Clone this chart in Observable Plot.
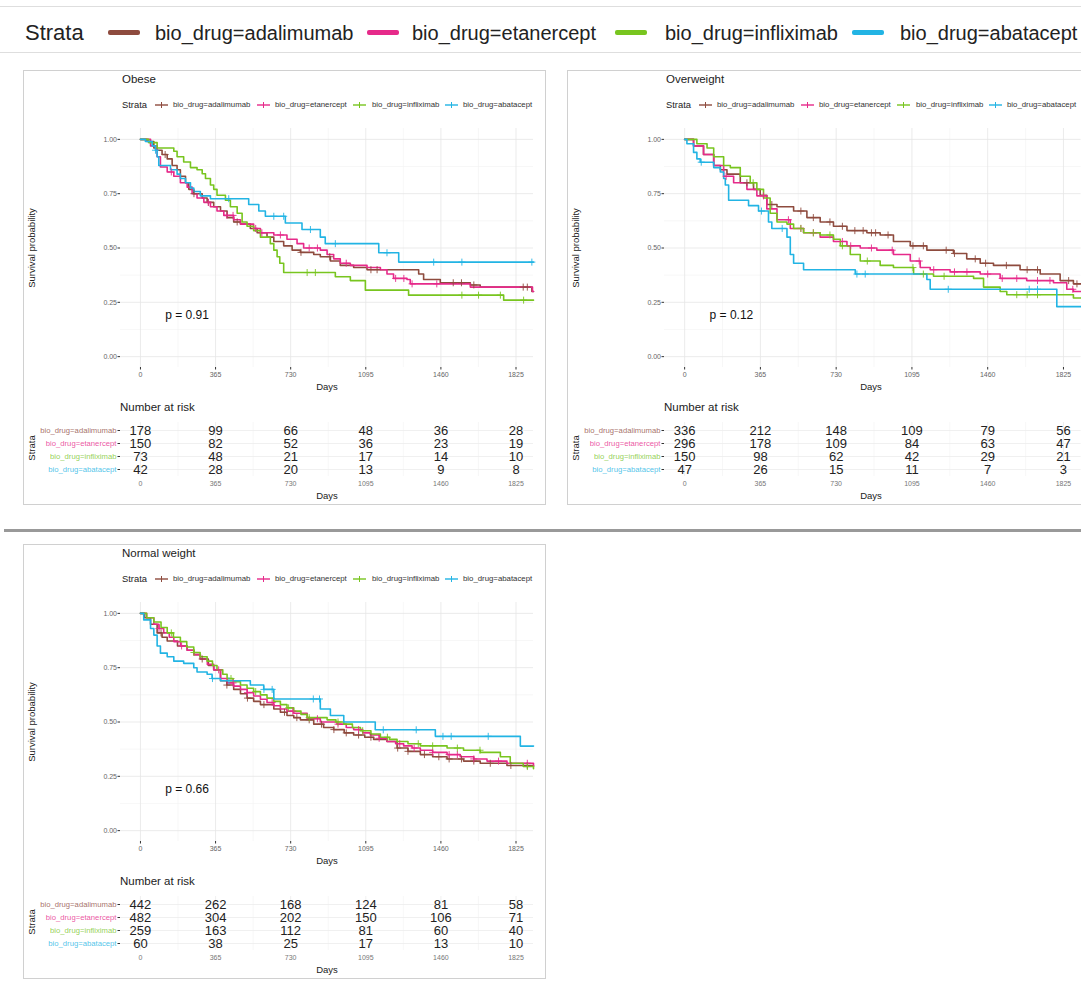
<!DOCTYPE html>
<html><head><meta charset="utf-8">
<script src="https://cdn.jsdelivr.net/npm/d3@7"></script>
<script src="https://cdn.jsdelivr.net/npm/@observablehq/plot@0.6"></script>
<style>
body{margin:0;width:1081px;height:1003px;overflow:hidden;background:#fff;font-family:"Liberation Sans",Arial,Helvetica,sans-serif;color:#222;position:relative}
.abs{position:absolute;white-space:nowrap;line-height:1}
.c{transform:translate(-50%,-50%)}
.l{transform:translateY(-50%)}
.r{transform:translate(-50%,-50%) rotate(-90deg)}
</style></head><body>
<script>
// ---------- data ----------
const strata = ["bio_drug=adalimumab","bio_drug=etanercept","bio_drug=infliximab","bio_drug=abatacept"];
const colors = ["#8E4B3E","#E62A8A","#78C51F","#22B4E4"];
const xTicks = [0,365,730,1095,1460,1825];
const xMinor = [182.5,547.5,912.5,1277.5,1642.5];
const yTicks = [0,0.25,0.5,0.75,1];
const yMinor = [0.125,0.375,0.625,0.875];
const riskTimes = [0,365,730,1095,1460,1825];

// Obese
const obeseAda = [[0,1],[32,0.99],[65,0.96],[81,0.95],[105,0.93],[130,0.91],[154,0.88],[178,0.86],[194,0.83],[219,0.80],[235,0.77],[259,0.75],[300,0.73],[324,0.71],[356,0.69],[389,0.67],[421,0.64],[453,0.62],[486,0.61],[534,0.59],[567,0.57],[615,0.55],[648,0.53],[696,0.51],[737,0.49],[777,0.48],[842,0.47],[874,0.46],[923,0.44],[971,0.42],[1036,0.41],[1101,0.40],[1352,0.38],[1376,0.355],[1457,0.34],[1603,0.33],[1651,0.32],[1902,0.30],[1910,0.30]];
const obeseEta = [[0,1],[49,0.97],[81,0.92],[97,0.873],[130,0.85],[162,0.83],[194,0.80],[227,0.78],[251,0.75],[275,0.73],[308,0.71],[340,0.69],[372,0.67],[405,0.65],[453,0.63],[486,0.61],[550,0.59],[583,0.57],[648,0.56],[712,0.54],[761,0.52],[793,0.50],[874,0.49],[907,0.47],[939,0.45],[971,0.43],[1020,0.42],[1101,0.41],[1166,0.40],[1198,0.38],[1230,0.36],[1295,0.355],[1311,0.335],[1603,0.32],[1905,0.30],[1910,0.30]];
const obeseInf = [[0,1],[40,0.985],[81,0.96],[162,0.945],[178,0.92],[210,0.896],[243,0.87],[275,0.86],[300,0.842],[316,0.82],[340,0.79],[356,0.77],[372,0.743],[413,0.72],[437,0.69],[470,0.66],[494,0.62],[518,0.60],[550,0.58],[583,0.55],[631,0.52],[648,0.49],[664,0.46],[677,0.43],[696,0.387],[947,0.368],[1020,0.35],[1093,0.306],[1303,0.283],[1765,0.26],[1910,0.26]];
const obeseAba = [[0,1],[24,0.99],[57,0.97],[73,0.95],[81,0.92],[89,0.88],[146,0.86],[178,0.84],[194,0.82],[219,0.80],[243,0.776],[259,0.76],[291,0.74],[340,0.727],[526,0.70],[575,0.67],[607,0.646],[704,0.615],[785,0.585],[874,0.55],[898,0.52],[1158,0.478],[1255,0.435],[1910,0.435]];
const obeseAdaCens = [120,260,330,470,780,920,1120,1150,1520,1560,1620,1860,1880];
const obeseEtaCens = [150,330,420,450,560,590,680,820,860,1000,1240,1280,1320,1440];
const obeseInfCens = [810,850,1562,1643,1749,1862];
const obeseAbaCens = [73,429,648,696,826,947,1198,1425,1562,1902];
const obeseRiskAda = [178,99,66,48,36,28];
const obeseRiskEta = [150,82,52,36,23,19];
const obeseRiskInf = [73,48,21,17,14,10];
const obeseRiskAba = [42,28,20,13,9,8];
const obeseP = "p = 0.91";

// Overweight
const owAda = [[0,1],[43,0.97],[91,0.93],[140,0.88],[172,0.86],[204,0.84],[268,0.80],[332,0.77],[364,0.743],[396,0.70],[445,0.69],[525,0.67],[589,0.64],[653,0.62],[717,0.60],[782,0.58],[878,0.57],[942,0.56],[1006,0.53],[1087,0.51],[1167,0.49],[1295,0.475],[1359,0.45],[1424,0.43],[1488,0.42],[1616,0.40],[1713,0.38],[1809,0.35],[1873,0.335],[1910,0.335]];
const owEta = [[0,1],[43,0.97],[91,0.93],[140,0.88],[188,0.83],[236,0.80],[300,0.77],[348,0.74],[396,0.68],[445,0.63],[509,0.59],[573,0.57],[653,0.55],[717,0.53],[782,0.51],[846,0.50],[926,0.49],[1006,0.47],[1087,0.44],[1135,0.41],[1183,0.40],[1279,0.39],[1424,0.38],[1520,0.36],[1648,0.35],[1777,0.34],[1841,0.31],[1873,0.30],[1910,0.30]];
const owInf = [[0,1],[59,0.98],[108,0.96],[140,0.92],[188,0.88],[220,0.87],[268,0.83],[316,0.80],[348,0.77],[380,0.73],[412,0.66],[445,0.62],[493,0.61],[525,0.59],[573,0.57],[653,0.56],[717,0.54],[750,0.51],[798,0.47],[846,0.44],[942,0.42],[1006,0.41],[1103,0.38],[1199,0.37],[1392,0.36],[1440,0.32],[1520,0.30],[1552,0.285],[1873,0.27],[1910,0.27]];
const owAba = [[0,1],[11,0.98],[43,0.94],[59,0.91],[75,0.895],[140,0.87],[172,0.85],[188,0.82],[196,0.79],[212,0.72],[308,0.695],[356,0.67],[404,0.62],[420,0.59],[493,0.55],[509,0.47],[525,0.43],[573,0.40],[822,0.38],[1167,0.355],[1183,0.31],[1793,0.23],[1910,0.23]];
const owAdaCens = [300,420,560,620,700,760,820,860,900,920,980,1100,1150,1260,1300,1400,1450,1550,1650,1700,1850,1890];
const owEtaCens = [200,380,500,560,620,760,800,900,1000,1130,1200,1300,1360,1460,1530,1600,1700,1760,1870];
const owInfCens = [330,560,620,700,760,880,1100,1150,1250,1600,1650,1700];
const owAbaCens = [80,370,470,830,870,1270,1660,1700];
const owRiskAda = [336,212,148,109,79,56];
const owRiskEta = [296,178,109,84,63,47];
const owRiskInf = [150,98,62,42,29,21];
const owRiskAba = [47,26,15,11,7,3];
const owP = "p = 0.12";

// Normal weight
const nwAda = [[0,1],[20,0.98],[49,0.95],[81,0.91],[105,0.89],[130,0.873],[180,0.85],[227,0.83],[260,0.81],[291,0.79],[330,0.76],[356,0.74],[389,0.69],[420,0.67],[453,0.65],[486,0.63],[518,0.61],[550,0.595],[583,0.58],[648,0.56],[680,0.545],[712,0.53],[745,0.52],[777,0.51],[842,0.49],[890,0.475],[939,0.465],[990,0.45],[1036,0.44],[1090,0.43],[1133,0.42],[1198,0.41],[1247,0.38],[1300,0.365],[1360,0.35],[1420,0.34],[1490,0.33],[1570,0.32],[1651,0.31],[1781,0.30],[1910,0.295]];
const nwEta = [[0,1],[30,0.98],[65,0.95],[90,0.93],[113,0.91],[140,0.89],[162,0.87],[195,0.85],[227,0.83],[260,0.81],[291,0.79],[325,0.765],[356,0.74],[389,0.70],[421,0.68],[453,0.665],[486,0.65],[518,0.635],[550,0.62],[583,0.605],[615,0.59],[648,0.575],[680,0.56],[712,0.55],[745,0.54],[810,0.515],[874,0.50],[955,0.49],[1000,0.475],[1036,0.465],[1080,0.45],[1117,0.44],[1160,0.425],[1198,0.41],[1240,0.40],[1279,0.39],[1320,0.38],[1360,0.37],[1420,0.36],[1490,0.35],[1554,0.34],[1620,0.33],[1684,0.32],[1781,0.31],[1910,0.30]];
const nwInf = [[0,1],[30,0.98],[65,0.96],[100,0.935],[130,0.91],[160,0.89],[194,0.87],[225,0.845],[259,0.82],[290,0.80],[324,0.78],[350,0.76],[372,0.74],[400,0.72],[421,0.70],[450,0.685],[486,0.67],[518,0.655],[550,0.64],[583,0.625],[615,0.61],[648,0.595],[680,0.58],[712,0.565],[745,0.55],[780,0.535],[810,0.52],[907,0.51],[950,0.50],[988,0.49],[1030,0.475],[1069,0.46],[1120,0.445],[1166,0.43],[1210,0.42],[1247,0.41],[1300,0.40],[1360,0.39],[1490,0.38],[1570,0.37],[1651,0.36],[1749,0.34],[1797,0.31],[1860,0.295],[1910,0.285]];
const nwAba = [[0,1],[16,0.97],[49,0.93],[65,0.90],[81,0.85],[97,0.817],[130,0.80],[162,0.78],[210,0.77],[259,0.75],[275,0.73],[324,0.72],[348,0.70],[389,0.69],[534,0.67],[599,0.65],[648,0.606],[874,0.56],[923,0.53],[988,0.50],[1141,0.464],[1433,0.434],[1846,0.389],[1910,0.389]];
const nwAdaCens = [100,300,420,520,600,700,760,820,880,940,1000,1060,1120,1250,1300,1380,1450,1500,1560,1620,1700,1800,1880];
const nwEtaCens = [90,200,380,450,520,640,740,860,960,1060,1160,1260,1330,1420,1500,1540,1620,1740,1880];
const nwInfCens = [150,260,440,560,720,820,960,1080,1200,1350,1420,1540,1650,1880];
const nwAbaCens = [350,430,600,640,840,870,1180,1340,1470,1510,1690];
const nwRiskAda = [442,262,168,124,81,58];
const nwRiskEta = [482,304,202,150,106,71];
const nwRiskInf = [259,163,112,81,60,40];
const nwRiskAba = [60,38,25,17,13,10];
const nwP = "p = 0.66";

// ---------- helpers ----------
const FONT = '"Liberation Sans",Arial,Helvetica,sans-serif';
function el(parent, html, cls, x, y, style) {
  const d = document.createElement("div");
  d.className = "abs " + (cls || "");
  d.style.left = x + "px"; d.style.top = y + "px";
  if (style) Object.assign(d.style, style);
  d.innerHTML = html;
  parent.appendChild(d);
  return d;
}
function stepAt(pts, t) { let v = pts[0][1]; for (const [tt, s] of pts) if (tt <= t) v = s; return v; }
const colorScale = {domain: strata, range: colors};
const dayFmt = d => String(d);

function curvePlot(curves, cens, pText, mr) {
  const lines = curves.flatMap((pts, i) => pts.map(([t, s]) => ({t, s, g: strata[i]})));
  const marks = cens.flatMap((ts, i) => ts.map(t => ({t, s: stepAt(curves[i], t), g: strata[i]})));
  return Plot.plot({
    width: 530, height: 282, marginLeft: 100, marginRight: mr, marginTop: 13, marginBottom: 30,
    style: {fontFamily: FONT, background: "transparent", maxWidth: "none", overflow: "visible"},
    x: {domain: [-97, 1910]},
    y: {domain: [-0.05, 1.05]},
    color: colorScale,
    marks: [
      Plot.ruleX(xMinor, {stroke: "#f2f2f2", strokeWidth: 0.6}),
      Plot.ruleY(yMinor, {stroke: "#f2f2f2", strokeWidth: 0.6}),
      Plot.ruleX(xTicks, {stroke: "#e6e6e6", strokeWidth: 0.8}),
      Plot.ruleY(yTicks, {stroke: "#e6e6e6", strokeWidth: 0.8}),
      Plot.axisX({ticks: xTicks, tickSize: 2.5, tickPadding: 2, fontSize: 7, fill: "#666", stroke: "#333", tickFormat: dayFmt, label: null}),
      Plot.axisY({ticks: yTicks, tickSize: 2.5, tickPadding: 1, fontSize: 7, fill: "#666", stroke: "#333", tickFormat: d3.format(".2f"), label: null}),
      Plot.line(lines, {x: "t", y: "s", z: "g", stroke: "g", curve: "step-after", strokeWidth: 1.6}),
      Plot.dot(marks, {x: "t", y: "s", stroke: "g", symbol: "plus", r: 2.4, strokeWidth: 0.9}),
      Plot.text([pText], {x: 120, y: 0.19, text: d => d, textAnchor: "start", fontSize: 12, fill: "#111"})
    ]
  });
}

function riskPlot(risk, mr) {
  const rows = risk.flatMap((arr, i) => arr.map((n, j) => ({t: riskTimes[j], n, g: strata[i]})));
  return Plot.plot({
    width: 530, height: 80, marginLeft: 100, marginRight: mr, marginTop: 7, marginBottom: 19,
    style: {fontFamily: FONT, background: "transparent", maxWidth: "none", overflow: "visible"},
    x: {domain: [-97, 1910]},
    y: {type: "point", domain: strata, padding: 0.5},
    color: colorScale,
    marks: [
      Plot.ruleX(xMinor, {stroke: "#f2f2f2", strokeWidth: 0.6}),
      Plot.ruleX(xTicks, {stroke: "#ececec", strokeWidth: 0.8}),
      Plot.ruleY(strata, {y: d => d, stroke: "#ececec", strokeWidth: 0.8}),
      Plot.axisX({ticks: xTicks, tickSize: 0, tickPadding: 4.5, fontSize: 7, fill: "#777", tickFormat: dayFmt, label: null}),
      Plot.axisY({tickSize: 2.5, tickFormat: () => "", stroke: "#333", label: null}),
      Plot.text(strata, {y: d => d, text: d => d, frameAnchor: "left", dx: -4, textAnchor: "end", fill: d => d, fillOpacity: 0.8, fontSize: 7.7}),
      Plot.text(rows, {x: "t", y: "g", text: "n", fontSize: 13, fill: "#222"})
    ]
  });
}

function swatchSvg(color) {
  return `<svg width="13" height="8" style="display:block"><line x1="0" y1="4" x2="13" y2="4" stroke="${color}" stroke-width="1.4"/><line x1="6.5" y1="1" x2="6.5" y2="7" stroke="${color}" stroke-width="1"/></svg>`;
}

// ---------- page ----------
const body = document.body;
el(body, "", "", 0, 6, {width: "1081px", height: "1px", background: "#dedede"});
el(body, "", "", 0, 52, {width: "1081px", height: "1px", background: "#dedede"});
el(body, "Strata", "l", 25, 33, {fontSize: "22px", color: "#222"});
const topSw = [108, 367, 615, 852];
const topTx = [155, 412, 665, 900];
strata.forEach((s, i) => {
  el(body, "", "", topSw[i], 30, {width: "32px", height: "5px", background: colors[i], borderRadius: "2px"});
  el(body, s, "l", topTx[i], 33, {fontSize: "20px", color: "#222"});
});
el(body, "", "", 4, 529, {width: "1077px", height: "3px", background: "#999"});

const panels = [
  {title: "Obese", dx: 0, dy: 0, mr: 17, bw: 523,
   curves: [obeseAda, obeseEta, obeseInf, obeseAba], cens: [obeseAdaCens, obeseEtaCens, obeseInfCens, obeseAbaCens],
   risk: [obeseRiskAda, obeseRiskEta, obeseRiskInf, obeseRiskAba], p: obeseP},
  {title: "Overweight", dx: 544, dy: 0, mr: 13.4, bw: 600,
   curves: [owAda, owEta, owInf, owAba], cens: [owAdaCens, owEtaCens, owInfCens, owAbaCens],
   risk: [owRiskAda, owRiskEta, owRiskInf, owRiskAba], p: owP},
  {title: "Normal weight", dx: 0, dy: 474, mr: 17, bw: 523,
   curves: [nwAda, nwEta, nwInf, nwAba], cens: [nwAdaCens, nwEtaCens, nwInfCens, nwAbaCens],
   risk: [nwRiskAda, nwRiskEta, nwRiskInf, nwRiskAba], p: nwP}
];

const legSw = [155, 257, 353, 445];
const legTx = [173, 275, 372, 463];
for (const P of panels) {
  const g = el(body, "", "", P.dx, P.dy, {width: "1081px", height: "520px"});
  el(g, "", "", 23, 70, {width: P.bw + "px", height: "435px", border: "1px solid #d0d0d0", boxSizing: "border-box"});
  el(g, P.title, "l", 122, 80, {fontSize: "11.5px", color: "#222"});
  el(g, "Strata", "l", 122, 105, {fontSize: "9.4px", color: "#222"});
  strata.forEach((s, i) => {
    el(g, swatchSvg(colors[i]), "l", legSw[i], 105);
    el(g, s, "l", legTx[i], 105, {fontSize: "7.8px", color: "#333"});
  });
  el(g, "Survival probability", "r", 32, 248, {fontSize: "9.5px", color: "#222"});
  const c = curvePlot(P.curves, P.cens, P.p, P.mr);
  const cw = el(g, "", "", 20, 115); cw.appendChild(c);
  el(g, "Days", "c", 327, 387, {fontSize: "9.5px", color: "#222"});
  el(g, "Number at risk", "l", 120, 408, {fontSize: "11.5px", color: "#222"});
  el(g, "Strata", "r", 32, 448, {fontSize: "9.5px", color: "#222"});
  const r = riskPlot(P.risk, P.mr);
  const rw = el(g, "", "", 20, 415); rw.appendChild(r);
  el(g, "Days", "c", 327, 496, {fontSize: "9.5px", color: "#222"});
}
</script>
</body></html>
